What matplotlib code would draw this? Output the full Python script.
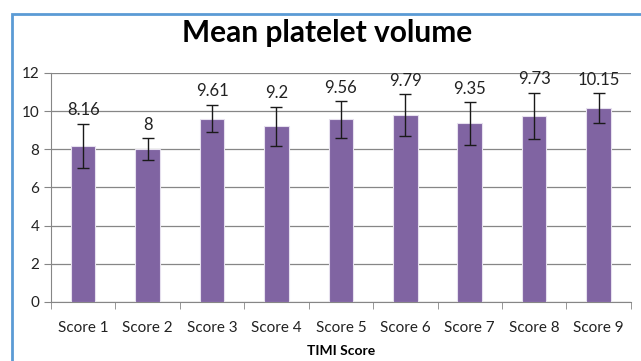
import numpy as np
import matplotlib.pyplot as plt
from matplotlib.patches import Rectangle

plt.rcParams['font.family'] = ['Lato', 'DejaVu Sans']

#Données
categories = ["Score 1", "Score 2", "Score 3", "Score 4", "Score 5",
              "Score 6", "Score 7", "Score 8", "Score 9"]
means = [8.16, 8, 9.61, 9.2, 9.56, 9.79, 9.35, 9.73, 10.15]
labels = ["8.16", "8", "9.61", "9.2", "9.56", "9.79", "9.35", "9.73", "10.15"]
errors = [1.17, 0.58, 0.73, 1.03, 0.95, 1.1, 1.11, 1.22, 0.79]

fig = plt.figure(figsize=(6.41, 3.61), dpi=100)
ax = fig.add_axes([0.0796, 0.164, 0.9044, 0.634])

x = np.arange(len(categories))
ax.bar(x, means, width=0.38, color="#8064A2", edgecolor="#E6E0EE", linewidth=0.8, zorder=3)
ax.errorbar(x, means, yerr=errors, fmt="none", ecolor="#1a1a1a", elinewidth=1,
            capsize=4, capthick=1, zorder=4)

for xi, m, e, lab in zip(x, means, errors, labels):
    ax.annotate(lab, (xi, m + e), xytext=(0, 4), textcoords="offset points",
                ha="center", va="bottom", fontsize=12, color="#222222")

ax.set_xlim(-0.5, len(categories) - 0.5)
ax.set_ylim(0, 12)
ax.set_yticks(range(0, 13, 2))
ax.set_xticks(x)
ax.set_xticklabels(categories, fontsize=11, color="#222222")
ax.set_xticks(np.arange(-0.5, len(categories), 1), minor=True)
ax.tick_params(axis="x", which="major", length=0, pad=14)
ax.tick_params(axis="x", which="minor", length=5, color="#868686")
ax.tick_params(axis="y", length=5, color="#868686", labelsize=11, labelcolor="#222222")
ax.yaxis.grid(True, color="#868686", linewidth=0.9, zorder=0)
ax.set_axisbelow(True)
for s in ["top", "right"]:
    ax.spines[s].set_visible(False)
for s in ["left", "bottom"]:
    ax.spines[s].set_color("#868686")

ax.set_xlabel("TIMI Score", fontsize=10, fontweight="bold", labelpad=7)
fig.text(0.51, 0.908, "Mean platelet volume", ha="center", va="center",
         fontsize=21.5, fontweight="bold")

#Cadre bleu
fig.patches.append(Rectangle((12 / 641, -0.1), 1.1, (361 - 14) / 361 + 0.1,
                             transform=fig.transFigure, fill=False,
                             edgecolor="#5B9BD5", linewidth=2))

fig.savefig("out.png", dpi=100)
